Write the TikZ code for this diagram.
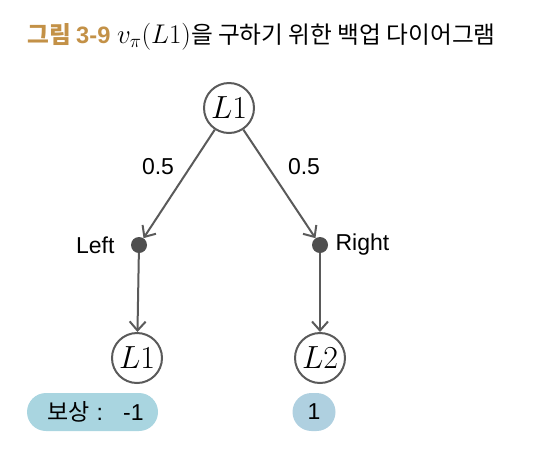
\RequirePackage{fix-cm}
\documentclass[tikz,border=0pt]{standalone}
\usepackage{fontspec}
\setmainfont{Liberation Sans}
\newfontfamily\kr{Noto Sans CJK KR}
\usetikzlibrary{arrows.meta}
\definecolor{linegray}{HTML}{5A5A5A}
\definecolor{dotgray}{HTML}{4F4F4F}
\definecolor{gold}{HTML}{C39147}
\definecolor{pillL}{HTML}{A9D5E0}
\definecolor{pillR}{HTML}{AFD0E0}
\begin{document}
\begin{tikzpicture}[x=1pt,y=-1pt,
  state/.style={circle,draw=linegray,line width=2pt,minimum size=50pt,inner sep=0pt,font=\fontsize{32}{34}\selectfont},
  act/.style={circle,fill=dotgray,minimum size=16pt,inner sep=0pt},
  edge/.style={draw=linegray,line width=2pt,-{Straight Barb[length=9pt,width=16pt,line width=2pt]}},
  lab/.style={font=\fontsize{23}{26}\selectfont,text=black},
  pill/.style={rounded corners=19pt,minimum height=38pt,inner sep=0pt,font=\fontsize{23}{26}\selectfont}
]
\useasboundingbox (0,0) rectangle (534,451);
\node[anchor=west,inner sep=0pt] (title) at (27,37) {\fontsize{23.7}{28}\selectfont{\color{gold}\kr\bfseries 그림 \rmfamily\bfseries 3-9} {\fontsize{27}{30}\selectfont$v_\pi(L1)$}\kr 을 구하기 위한 백업 다이어그램};
\node[state] (root) at (229,108) {$L1$};
\node[act] (left) at (139,245) {};
\node[act] (right) at (320,245) {};
\node[state] (l1) at (137,358) {$L1$};
\node[state] (l2) at (320,358) {$L2$};
\draw[edge] (root) -- (left);
\draw[edge] (root) -- (right);
\draw[edge] (left) -- (l1);
\draw[edge] (right) -- (l2);
\node[lab] (p1) at (158,167) {0.5};
\node[lab] (p2) at (304,167) {0.5};
\node[lab,anchor=east] (ll) at (118,245) {Left};
\node[lab,anchor=west] (rl) at (332,245) {Right};
\node[pill,fill=pillL,minimum width=131pt] (r1) at (92.5,412) {\hspace*{6pt}{\kr 보상}\hspace{7pt}:\hspace{20pt}-1};
\node[pill,fill=pillR,minimum width=43pt] (r2) at (314,412) {1};
\end{tikzpicture}
\end{document}
